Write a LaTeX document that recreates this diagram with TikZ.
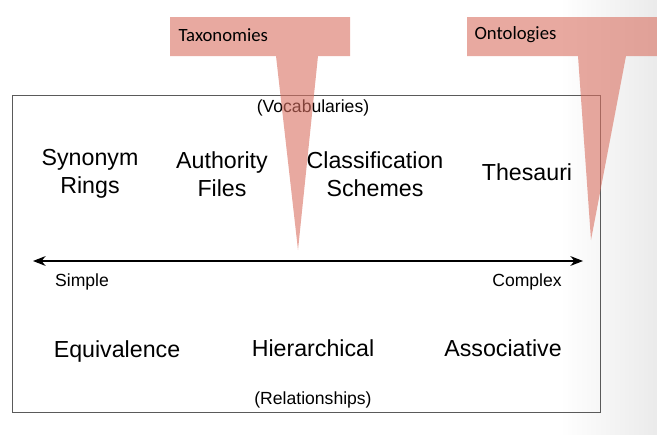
\documentclass[tikz,border=0pt]{standalone}
\usepackage{fontspec}
\setmainfont{Liberation Sans}
\newfontfamily\calloutfont{Carlito}
\usepackage{xcolor}
\usetikzlibrary{arrows.meta, positioning}

\definecolor{calloutred}{RGB}{217,112,97}
\definecolor{boxgray}{RGB}{90,90,90}

\begin{document}
\begin{tikzpicture}[
    x=0.025cm, y=-0.025cm,
    term/.style={font=\fontsize{16.5}{20}\selectfont, align=center, inner sep=0pt},
    small label/.style={font=\fontsize{12.5}{15}\selectfont, inner sep=0pt},
    callout/.style={fill=calloutred, opacity=0.6, draw=none},
    callout label/.style={font=\calloutfont\fontsize{13.3}{15}\selectfont, anchor=west, inner sep=0pt},
    line width=0.8pt
]
\useasboundingbox (0,0) rectangle (657,434);

% slide background fading to grey on the right
\shade[left color=white, right color=black!8, draw=none] (560,0) rectangle (657,434);

% frame
\draw[boxgray, line width=0.6pt] (12,95) rectangle (600,412);

% vocabularies
\node[small label] (vocab) at (313,108) {(Vocabularies)};
\node[term] (synonym) at (90,174) {Synonym\\Rings};
\node[term] (authority) at (222,174) {Authority\\Files};
\node[term] (classif) at (375,174) {Classification\\Schemes};
\node[term] (thesauri) at (527,172) {Thesauri};

% scale
\coordinate (left end) at (33,261);
\coordinate (right end) at (583,261);
\draw[{Stealth[length=9pt, width=7pt]}-{Stealth[length=9pt, width=7pt]}] (left end) -- (right end);
\node[small label] (simple) at (82,282) {Simple};
\node[small label] (complex) at (527,282) {Complex};

% relationships
\node[term] (equiv) at (117,351) {Equivalence};
\node[term] (hier) at (313,348) {Hierarchical};
\node[term] (assoc) at (503,348) {Associative};
\node[small label] (relations) at (313,400) {(Relationships)};

% callouts
\fill[callout] (170,17) -- (350,17) -- (350,56) -- (318,56) -- (298,250)
    -- (276,56) -- (170,56) -- cycle;
\node[callout label] (taxo) at (178,35) {Taxonomies};

\fill[callout] (467,17) -- (657,17) -- (657,56) -- (626,56) -- (591,240)
    -- (578,56) -- (467,56) -- cycle;
\node[callout label] (onto) at (474,35) {Ontologies};

\end{tikzpicture}
\end{document}
